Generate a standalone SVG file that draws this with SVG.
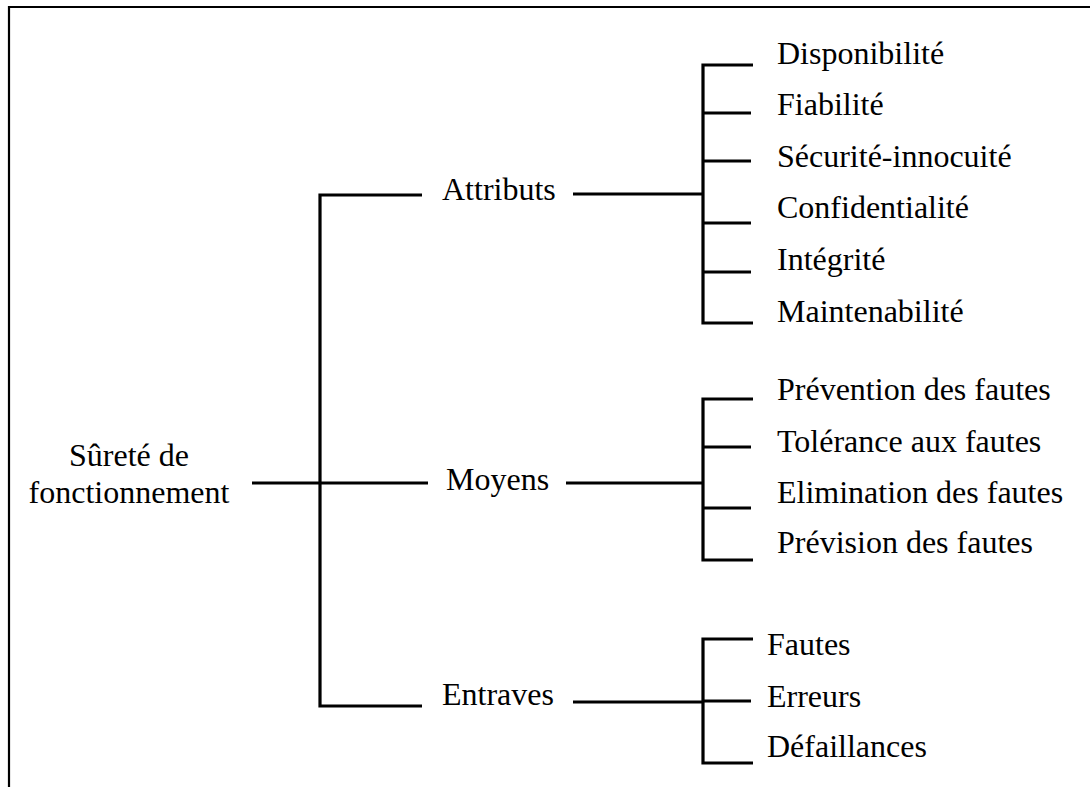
<svg xmlns="http://www.w3.org/2000/svg" width="1090" height="787" viewBox="0 0 1090 787">
<style>
text{font-family:"Liberation Serif","Times New Roman",serif;font-size:32px;fill:#000}
.c line,.c path{stroke:#000;stroke-width:3.2;fill:none}
.frame{stroke:#000;stroke-width:2.2;fill:none}
</style>
<rect width="1090" height="787" fill="#fff"/>
<path class="frame" d="M9 787V7H1090"/>
<g id="connectors" class="c">
<line x1="252" y1="483" x2="428" y2="483"/>
<path d="M422 195H320V706H422"/>
<line x1="573" y1="194" x2="703" y2="194"/>
<line x1="566" y1="483" x2="703" y2="483"/>
<line x1="573" y1="702" x2="703" y2="702"/>
<path d="M753 65H703V323H753"/>
<line x1="703" y1="113" x2="751" y2="113"/>
<line x1="703" y1="161" x2="751" y2="161"/>
<line x1="703" y1="223" x2="751" y2="223"/>
<line x1="703" y1="272" x2="751" y2="272"/>
<path d="M753 399H703V560H753"/>
<line x1="703" y1="447" x2="751" y2="447"/>
<line x1="703" y1="508" x2="751" y2="508"/>
<path d="M753 639H703V763H753"/>
<line x1="703" y1="701" x2="751" y2="701"/>
</g>
<g id="root"><text x="129" y="466" text-anchor="middle">Sûreté de</text><text x="129" y="503" text-anchor="middle">fonctionnement</text></g>
<g id="attributs"><text x="442" y="200">Attributs</text></g>
<g id="moyens"><text x="446" y="490">Moyens</text></g>
<g id="entraves"><text x="442" y="705">Entraves</text></g>
<g id="disponibilite"><text x="777" y="64">Disponibilité</text></g>
<g id="fiabilite"><text x="777" y="115">Fiabilité</text></g>
<g id="securite"><text x="777" y="167">Sécurité-innocuité</text></g>
<g id="confidentialite"><text x="777" y="218">Confidentialité</text></g>
<g id="integrite"><text x="777" y="270">Intégrité</text></g>
<g id="maintenabilite"><text x="777" y="322">Maintenabilité</text></g>
<g id="prevention"><text x="777" y="400">Prévention des fautes</text></g>
<g id="tolerance"><text x="777" y="452">Tolérance aux fautes</text></g>
<g id="elimination"><text x="777" y="503">Elimination des fautes</text></g>
<g id="prevision"><text x="777" y="553">Prévision des fautes</text></g>
<g id="fautes"><text x="767" y="655">Fautes</text></g>
<g id="erreurs"><text x="767" y="707">Erreurs</text></g>
<g id="defaillances"><text x="767" y="757">Défaillances</text></g>
</svg>
